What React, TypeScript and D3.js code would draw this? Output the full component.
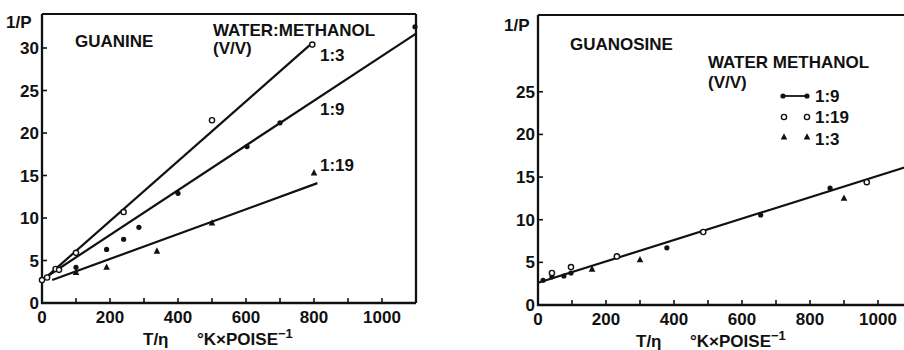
import React from "react";
import * as d3 from "d3";

// ---------- data ----------
const xTicks = [0, 100, 200, 300, 400, 500, 600, 700, 800, 900, 1000, 1100];
const xTickLabels = [0, 200, 400, 600, 800, 1000];
const yTicksLeft = [5, 10, 15, 20, 25, 30];
const yTickLabelsLeft = [0, 5, 10, 15, 20, 25, 30];
const yTicksRight = [5, 10, 15, 20, 25];
const yTickLabelsRight = [0, 5, 10, 15, 20, 25];

// Guanine (left)
const guanine13: [number, number][] = [[0, 2.7], [15, 3.0], [40, 4.0], [50, 3.9], [100, 5.9], [240, 10.7], [500, 21.5], [795, 30.4]];
const guanine19dots: [number, number][] = [[100, 4.2], [190, 6.3], [240, 7.5], [285, 8.9], [400, 12.9], [603, 18.4], [700, 21.2], [1097, 32.5]];
const guanine119: [number, number][] = [[100, 3.6], [190, 4.2], [338, 6.1], [500, 9.4], [800, 15.3]];
const guanineLine13: [number, number][] = [[0, 2.6], [795, 30.6]];
const guanineLine19: [number, number][] = [[10, 3.0], [1100, 31.7]];
const guanineLine119: [number, number][] = [[30, 2.7], [810, 14.1]];

// Guanosine (right)
const guanosine19: [number, number][] = [[15, 2.9], [41, 3.3], [76, 3.4], [97, 3.75], [379, 6.7], [655, 10.55], [859, 13.7]];
const guanosine119: [number, number][] = [[41, 3.75], [97, 4.45], [232, 5.7], [486, 8.56], [967, 14.4]];
const guanosine13: [number, number][] = [[159, 4.2], [300, 5.3], [900, 12.5]];
const guanosineLine: [number, number][] = [[0, 2.6], [1100, 16.4]];

const FONT = "'Liberation Sans', Arial, sans-serif";
const INK = "#111";

function Tri({ x, y, s = 5.5 }: { x: number; y: number; s?: number }) {
  const p = `${x},${y - s * 0.7} ${x - s * 0.6},${y + s * 0.45} ${x + s * 0.6},${y + s * 0.45}`;
  return <polygon points={p} fill={INK} />;
}
function Dot({ x, y }: { x: number; y: number }) {
  return <circle cx={x} cy={y} r={2.6} fill={INK} />;
}
function Ring({ x, y }: { x: number; y: number }) {
  return <circle cx={x} cy={y} r={2.6} fill="#fff" stroke={INK} strokeWidth={1.4} />;
}

function Axes({ x, y, yTicks, yLabels, right, labelBase, titleX, titleBase, ylx, ylBase }: any) {
  const [x0, x1] = x.range();
  const [y0, y1] = y.range();
  return (
    <g>
      <path d={`M${x0},${y1} L${x0},${y0} L${x1},${y0}`} fill="none" stroke={INK} strokeWidth={2.3} />
      <path d={`M${x0},${y1} L${x1},${y1}`} fill="none" stroke={INK} strokeWidth={2} />
      {right && <path d={`M${x1},${y1} L${x1},${y0}`} fill="none" stroke={INK} strokeWidth={2.3} />}
      {xTicks.map((t) => (
        <line key={"xt" + t} x1={x(t)} x2={x(t)} y1={y0} y2={y0 - 5} stroke={INK} strokeWidth={1.6} />
      ))}
      {yTicks.map((t: number) => (
        <line key={"yt" + t} x1={x0} x2={x0 + 5} y1={y(t)} y2={y(t)} stroke={INK} strokeWidth={1.6} />
      ))}
      {xTickLabels.map((t) => (
        <text key={"xl" + t} x={x(t)} y={labelBase} textAnchor="middle" fontSize={17} fontWeight="bold" fontFamily={FONT} fill={INK}>
          {t}
        </text>
      ))}
      {yLabels.map((t: number) => (
        <text key={"yl" + t} x={x0 - 3} y={y(t) + 6} textAnchor="end" fontSize={17} fontWeight="bold" fontFamily={FONT} fill={INK}>
          {t}
        </text>
      ))}
      <text x={ylx} y={ylBase} fontSize={17} fontWeight="bold" fontFamily={FONT} fill={INK}>1/P</text>
      <text x={titleX} y={titleBase} fontSize={17} fontWeight="bold" fontFamily={FONT} fill={INK}>T/η</text>
      <text x={titleX + 54} y={titleBase} fontSize={17} fontWeight="bold" fontFamily={FONT} fill={INK}>
        °K×POISE<tspan dy={-7} fontSize={13}>−1</tspan>
      </text>
    </g>
  );
}

export default function App() {
  const xL = d3.scaleLinear().domain([0, 1100]).range([42, 416]);
  const yL = d3.scaleLinear().domain([0, 34]).range([303, 14]);
  const xR = d3.scaleLinear().domain([0, 1100]).range([538, 912]);
  const yR = d3.scaleLinear().domain([0, 34]).range([305, 15]);

  const lineL = d3.line<[number, number]>().x((d) => xL(d[0])).y((d) => yL(d[1]));
  const lineR = d3.line<[number, number]>().x((d) => xR(d[0])).y((d) => yR(d[1]));

  const txt = (x: number, y: number, s: string, size = 17) => (
    <text x={x} y={y} fontSize={size} fontWeight="bold" fontFamily={FONT} fill={INK}>{s}</text>
  );

  return (
    <svg width={904} height={350} style={{ position: "absolute", left: 0, top: 0, background: "#fff" }}>
      <rect width={904} height={350} fill="#fff" />
      {/* Left panel: Guanine */}
      <Axes x={xL} y={yL} yTicks={yTicksLeft} yLabels={yTickLabelsLeft} right labelBase={323} titleX={143} titleBase={345} ylx={6} ylBase={28} />
      <path d={lineL(guanineLine13) || ""} fill="none" stroke={INK} strokeWidth={2.2} />
      <path d={lineL(guanineLine19) || ""} fill="none" stroke={INK} strokeWidth={2.2} />
      <path d={lineL(guanineLine119) || ""} fill="none" stroke={INK} strokeWidth={2.2} />
      {guanine13.map((d, i) => <Ring key={"a" + i} x={xL(d[0])} y={yL(d[1])} />)}
      {guanine19dots.map((d, i) => <Dot key={"b" + i} x={xL(d[0])} y={yL(d[1])} />)}
      {guanine119.map((d, i) => <Tri key={"c" + i} x={xL(d[0])} y={yL(d[1])} />)}
      {txt(75, 47, "GUANINE")}
      {txt(213, 36, "WATER:METHANOL")}
      {txt(213, 54, "(V/V)")}
      {txt(320, 61, "1:3")}
      {txt(320, 115, "1:9")}
      {txt(320, 171, "1:19")}

      {/* Right panel: Guanosine */}
      <Axes x={xR} y={yR} yTicks={yTicksRight} yLabels={yTickLabelsRight} right={false} labelBase={325} titleX={636} titleBase={347} ylx={504} ylBase={31} />
      <path d={lineR(guanosineLine) || ""} fill="none" stroke={INK} strokeWidth={2.2} />
      {guanosine19.map((d, i) => <Dot key={"d" + i} x={xR(d[0])} y={yR(d[1])} />)}
      {guanosine119.map((d, i) => <Ring key={"e" + i} x={xR(d[0])} y={yR(d[1])} />)}
      {guanosine13.map((d, i) => <Tri key={"f" + i} x={xR(d[0])} y={yR(d[1])} />)}
      {txt(570, 50, "GUANOSINE")}
      {txt(708, 68, "WATER METHANOL")}
      {txt(708, 88, "(V/V)")}
      {/* legend */}
      <line x1={783} x2={807} y1={96} y2={96} stroke={INK} strokeWidth={1.8} />
      <Dot x={783} y={96} />
      <Dot x={807} y={96} />
      {txt(815, 102, "1:9")}
      <Ring x={784} y={117} />
      <Ring x={807} y={117} />
      {txt(815, 123, "1:19")}
      <Tri x={784} y={137} />
      <Tri x={807} y={137} />
      {txt(815, 145, "1:3")}
    </svg>
  );
}
